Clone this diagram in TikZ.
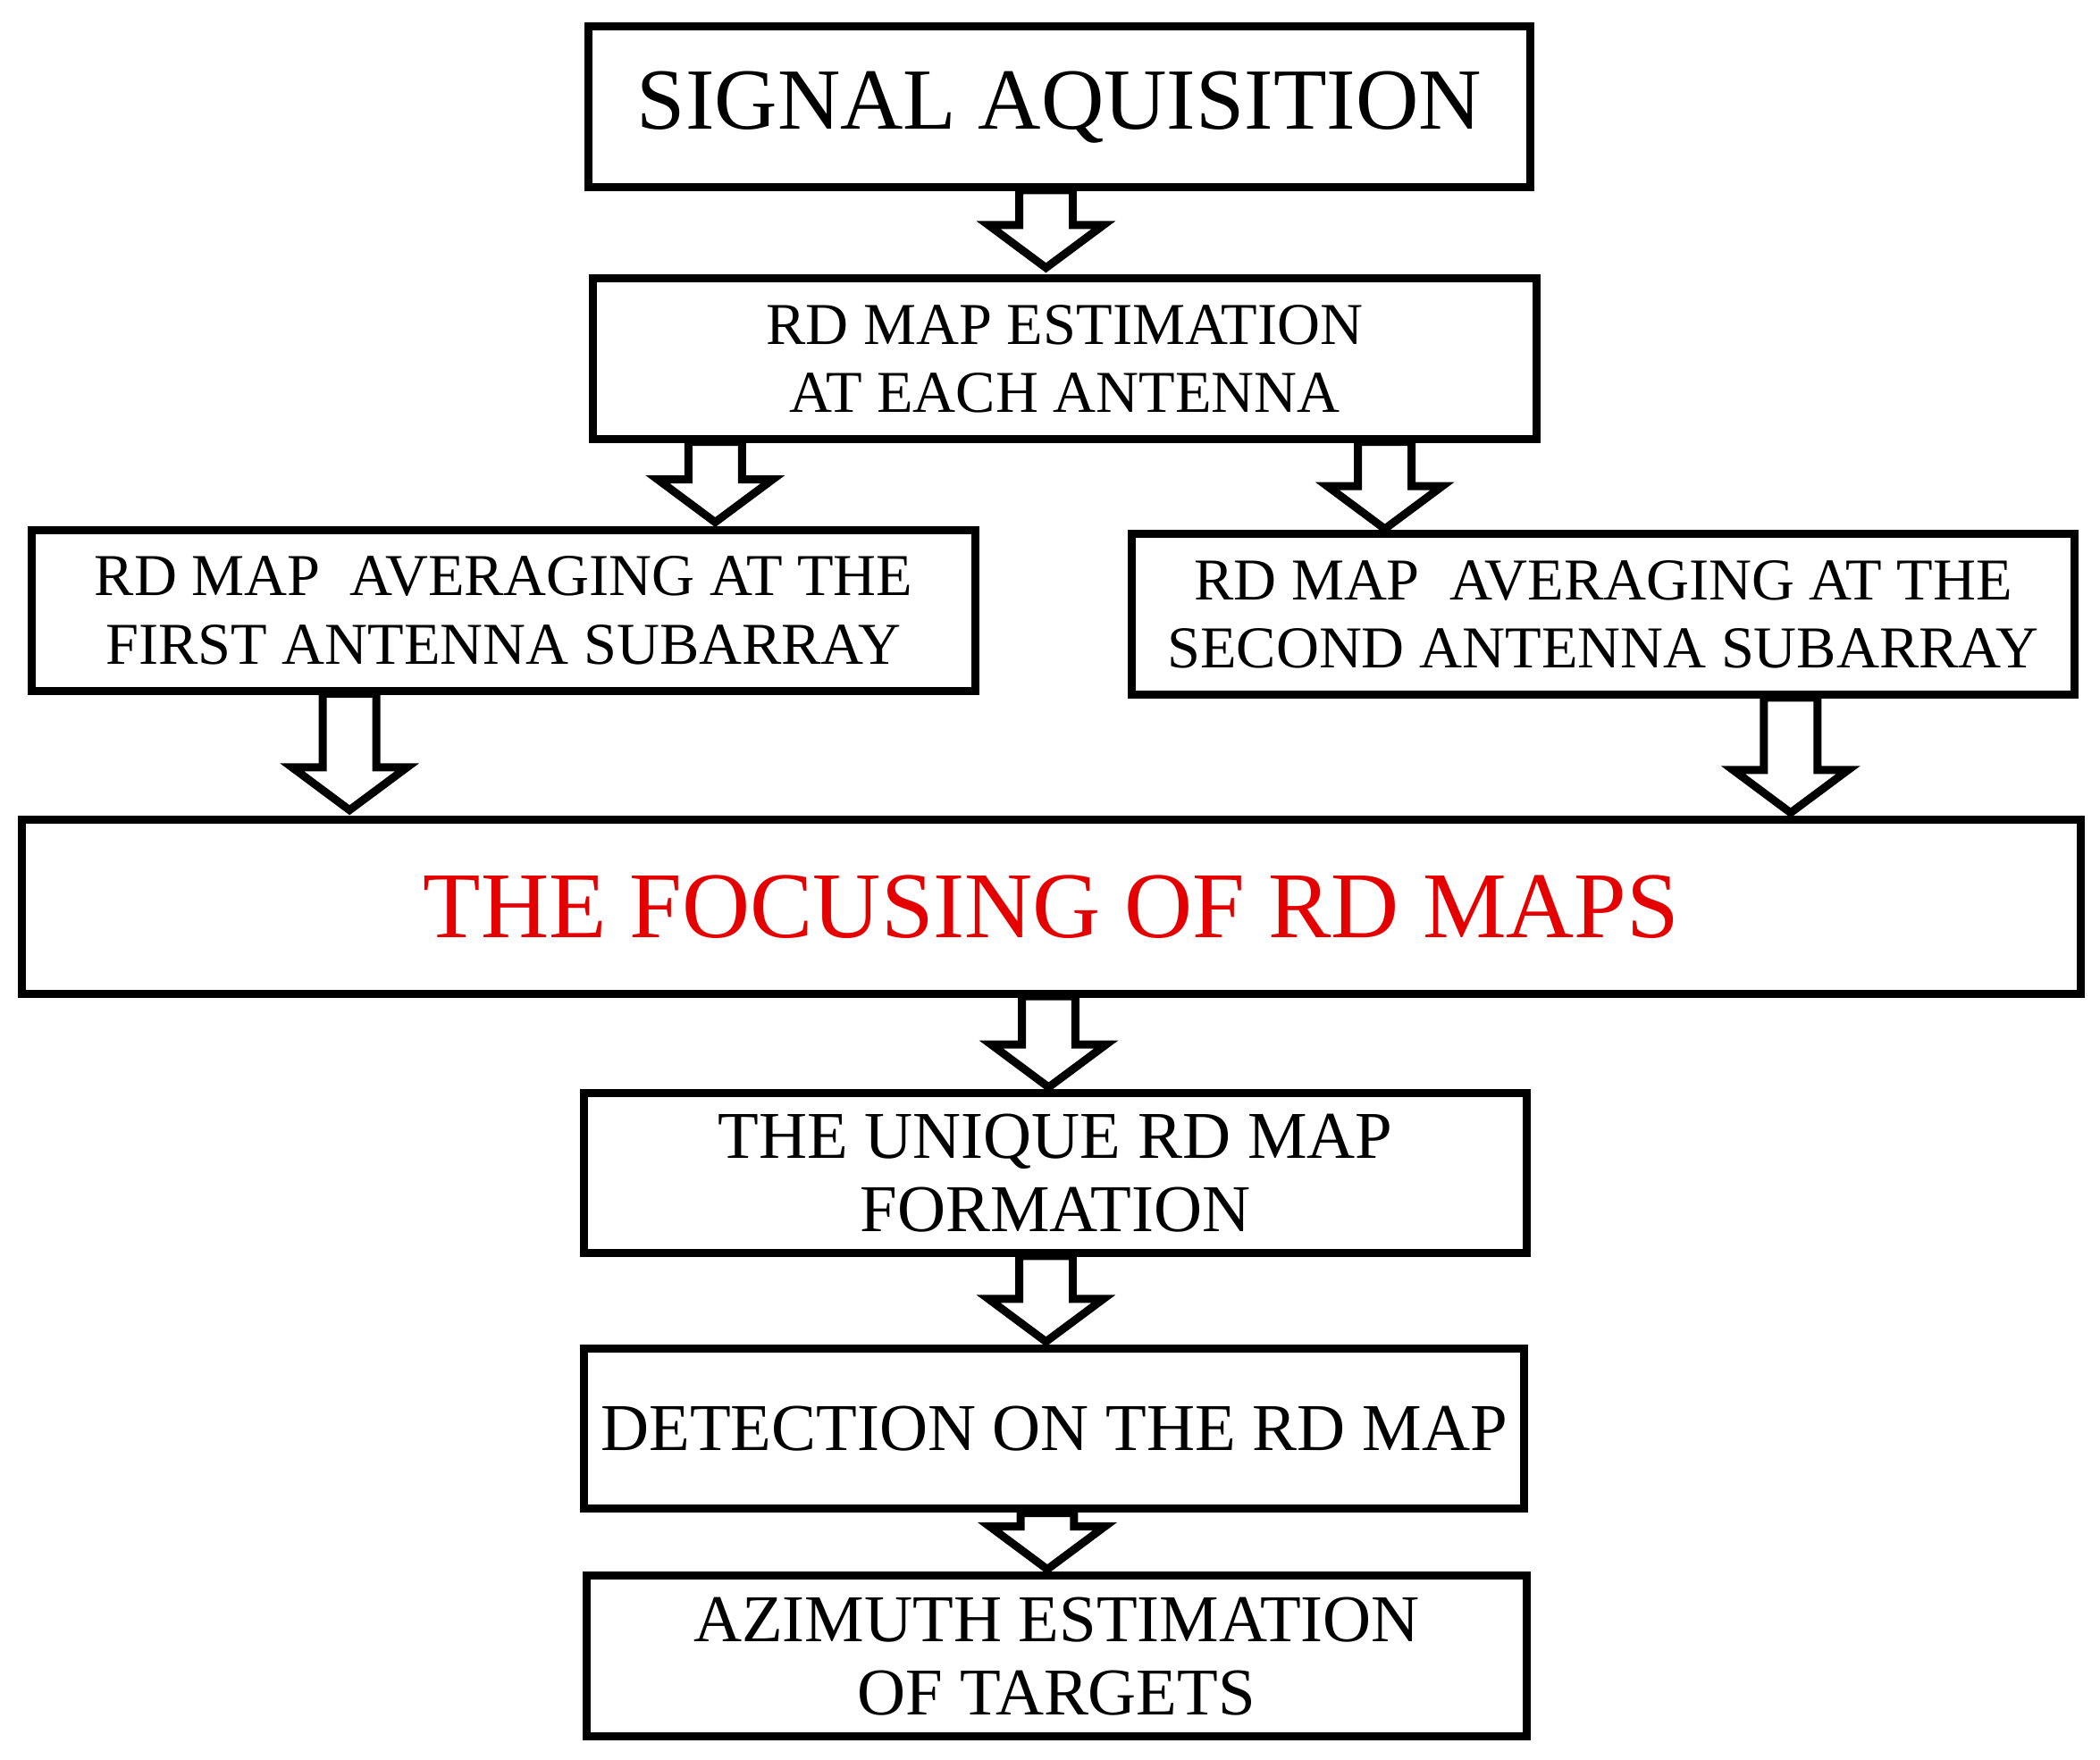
\documentclass[tikz,border=0pt]{standalone}
\usepackage{fontspec}
\setmainfont{Liberation Serif}
\newcommand{\barrow}[3]{%
  \draw[arr] (#1-20,#2) -- (#1+20,#2) -- (#1+20,#3-32) -- (#1+43,#3-32) -- (#1,#3) -- (#1-43,#3-32) -- (#1-20,#3-32) -- cycle;}
\begin{document}
\begin{tikzpicture}[x=0.01cm,y=-0.01cm,
  box/.style={draw,line width=1.7pt,inner sep=0pt,align=center},
  arr/.style={draw,line width=1.7pt,fill=white,line join=miter}]
\useasboundingbox (0,0) rectangle (1568,1314);
\node[box,minimum width=7.03cm,minimum height=1.2cm,font=\fontsize{18.5}{22}\selectfont] (sa) at (791,80) {SIGNAL AQUISITION};
\node[box,minimum width=7.04cm,minimum height=1.2cm,font=\fontsize{12.6}{14.5}\selectfont] (est) at (795,268) {RD MAP ESTIMATION\\AT EACH ANTENNA};
\node[box,minimum width=7.04cm,minimum height=1.2cm,font=\fontsize{12.6}{14.5}\selectfont] (l) at (376,456) {RD MAP\ \ AVERAGING AT THE\\FIRST ANTENNA SUBARRAY};
\node[box,minimum width=7.04cm,minimum height=1.2cm,font=\fontsize{12.6}{14.5}\selectfont] (r) at (1197,459) {RD MAP\ \ AVERAGING AT THE\\SECOND ANTENNA SUBARRAY};
\node[box,minimum width=15.36cm,minimum height=1.3cm,font=\fontsize{20}{24}\selectfont,text=red!90!black] (f) at (785,677) {THE FOCUSING OF RD MAPS};
\node[box,minimum width=7.03cm,minimum height=1.19cm,font=\fontsize{14.2}{15.6}\selectfont] (u) at (788,876) {THE UNIQUE RD MAP\\FORMATION};
\node[box,minimum width=7.01cm,minimum height=1.19cm,font=\fontsize{14.2}{15.6}\selectfont] (d) at (787,1067) {DETECTION ON THE RD MAP};
\node[box,minimum width=7.02cm,minimum height=1.2cm,font=\fontsize{14.2}{15.6}\selectfont] (az) at (789,1237) {AZIMUTH ESTIMATION\\OF TARGETS};
\barrow{781}{142}{200}
\barrow{534}{330}{390}
\barrow{1034}{330}{395}
\barrow{261}{518}{605}
\barrow{1337}{521}{607}
\barrow{783}{744}{812}
\barrow{781}{938}{1002}
\barrow{782}{1130}{1172}
\end{tikzpicture}
\end{document}
